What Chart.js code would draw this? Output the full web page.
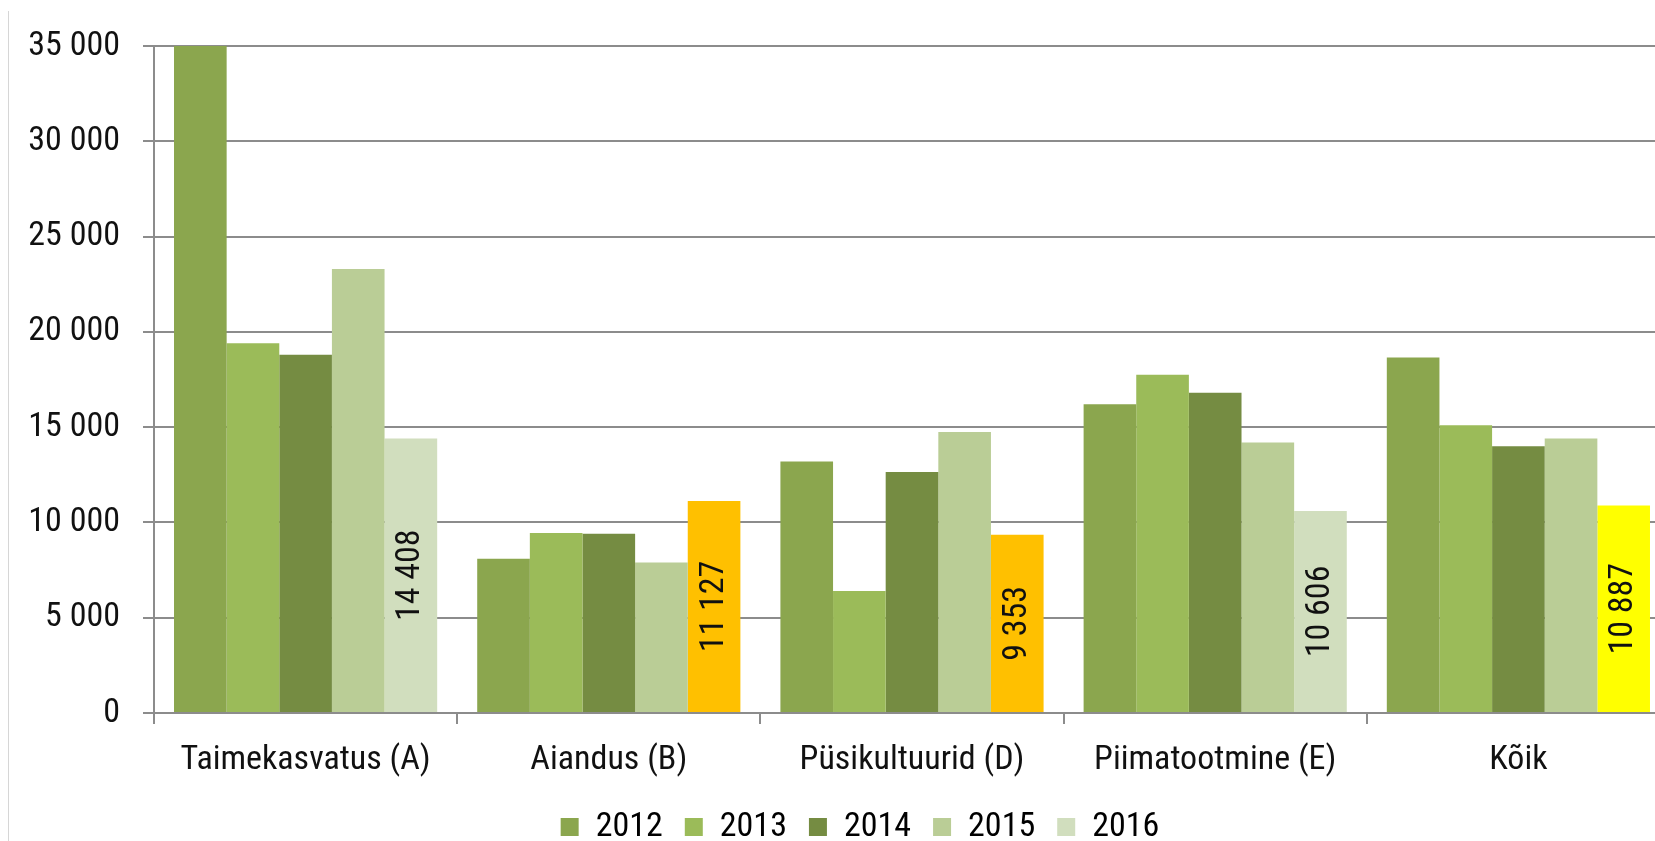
<!DOCTYPE html>
<html>
<head>
<meta charset="utf-8">
<script src="https://cdn.jsdelivr.net/npm/chart.js@4.4.0/dist/chart.umd.min.js"></script>
<style>
  body { margin: 0; overflow: hidden; background: #fff; }
  #wrap { position: relative; width: 1720px; height: 854px; }
  #frame { position: absolute; left: 8px; top: 11px; bottom: 0; border-left: 1px solid #d6d6d6; }
</style>
</head>
<body>
<div id="wrap"><div id="frame"></div><canvas id="chart"></canvas></div>
<script>
const categories = ['Taimekasvatus (A)', 'Aiandus (B)', 'Püsikultuurid (D)', 'Piimatootmine (E)', 'Kõik'];
const years = ['2012', '2013', '2014', '2015', '2016'];

const values2012 = [35000, 8100, 13200, 16200, 18650];
const values2013 = [19400, 9450, 6400, 17750, 15100];
const values2014 = [18800, 9400, 12650, 16800, 14000];
const values2015 = [23300, 7900, 14750, 14200, 14400];
const values2016 = [14408, 11127, 9353, 10606, 10887];

const yTicks = [0, 5000, 10000, 15000, 20000, 25000, 30000, 35000];

const seriesColors = ['#8BA64E', '#9BBB59', '#758C42', '#BACD96', '#D1DEBE'];
const colors2016 = ['#D1DEBE', '#FFC000', '#FFC000', '#D1DEBE', '#FFFF00'];

const FONT = "'Roboto Condensed', Roboto, sans-serif";
const FSIZE = 34;
const gridColor = '#8c8c8c';

function fmt(v) {
  return String(v).replace(/\B(?=(\d{3})+(?!\d))/g, ' ');
}

// arvud 2016 tulpade sees, püsti
const barLabels = {
  id: 'barLabels',
  afterLayout(chart) {
    // legend keskele nagu originaalis (parem serv on pildist väljas)
    chart.legend.left += 25;
    chart.legend.right += 25;
  },
  afterDatasetsDraw(chart) {
    const meta = chart.getDatasetMeta(4);
    const ctx = chart.ctx;
    ctx.save();
    ctx.font = FSIZE + 'px ' + FONT;
    ctx.fillStyle = '#111';
    ctx.textAlign = 'center';
    ctx.textBaseline = 'middle';
    meta.data.forEach((bar, i) => {
      ctx.save();
      ctx.translate(bar.x, (bar.y + bar.base) / 2);
      ctx.rotate(-Math.PI / 2);
      ctx.fillText(fmt(values2016[i]), 0, 0);
      ctx.restore();
    });
    ctx.restore();
  }
};

const allValues = [values2012, values2013, values2014, values2015, values2016];

const ctx = document.getElementById('chart').getContext('2d');
const chart = new Chart(ctx, {
  type: 'bar',
  data: {
    labels: categories,
    datasets: years.map((y, i) => ({
      label: y,
      data: allValues[i],
      backgroundColor: i === 4 ? colors2016 : seriesColors[i],
      borderWidth: 0,
      barPercentage: 1,
      categoryPercentage: 0.868
    }))
  },
  options: {
    responsive: true,
    maintainAspectRatio: false,
    animation: false,
    layout: { padding: { left: 0, right: 50, top: 46, bottom: 0 } },
    plugins: {
      tooltip: { enabled: false },
      legend: {
        position: 'bottom',
        labels: {
          color: '#111',
          font: { family: FONT, size: FSIZE },
          boxWidth: 18,
          boxHeight: 18,
          padding: 22,
          generateLabels(chart) {
            return years.map((y, i) => ({
              text: y,
              fillStyle: seriesColors[i],
              strokeStyle: seriesColors[i],
              lineWidth: 0,
              datasetIndex: i
            }));
          }
        }
      }
    },
    scales: {
      x: {
        afterFit(scale) {
          scale.height = 75;
        },
        grid: {
          offset: true,
          drawOnChartArea: false,
          drawTicks: true,
          tickLength: 11,
          color: gridColor,
          lineWidth: 2
        },
        border: { color: gridColor, width: 2 },
        ticks: {
          color: '#111',
          font: { family: FONT, size: FSIZE },
          padding: 16,
          maxRotation: 0
        }
      },
      y: {
        min: 0,
        max: 35000,
        afterBuildTicks(scale) {
          scale.ticks = yTicks.map(v => ({ value: v }));
        },
        afterFit(scale) {
          scale.width = 154;
        },
        grid: {
          color: gridColor,
          lineWidth: 2,
          tickLength: 11
        },
        border: { color: gridColor, width: 2 },
        ticks: {
          color: '#111',
          font: { family: FONT, size: FSIZE },
          padding: 23,
          callback: v => fmt(v)
        }
      }
    }
  },
  plugins: [barLabels]
});
</script>
</body>
</html>
